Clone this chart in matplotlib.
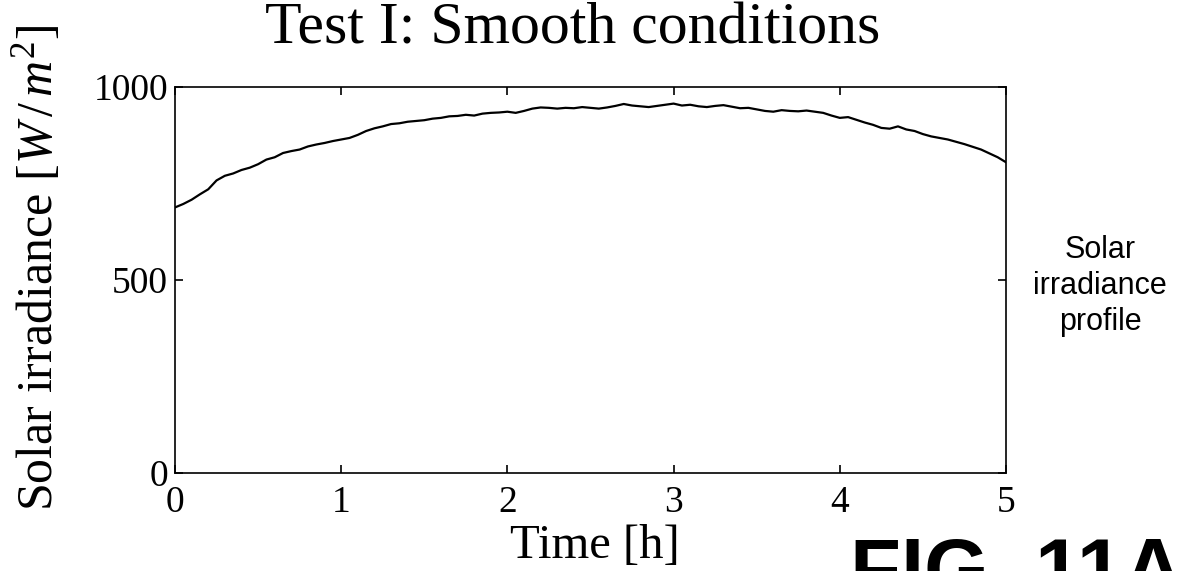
import numpy as np
import matplotlib
matplotlib.use("Agg")
import matplotlib.pyplot as plt

plt.rcParams['mathtext.fontset'] = 'custom'
plt.rcParams['mathtext.rm'] = 'Liberation Serif'
plt.rcParams['mathtext.it'] = 'Liberation Serif:italic'

# irradiance, every 0.05 h
irradiance = [
    688, 697, 708, 722, 735, 758, 770, 776, 785, 791,
    800, 812, 818, 829, 834, 838, 846, 851, 855, 860,
    864, 868, 876, 886, 893, 898, 904, 906, 910, 912,
    914, 918, 920, 924, 925, 928, 926, 931, 933, 934,
    936, 933, 938, 944, 947, 946, 944, 946, 945, 948,
    946, 944, 947, 951, 956, 952, 950, 948, 951, 954,
    957, 952, 954, 950, 948, 951, 953, 949, 945, 946,
    942, 938, 936, 940, 938, 937, 939, 936, 933, 926,
    920, 922, 915, 908, 902, 894, 892, 898, 890, 886,
    878, 872, 868, 864, 858, 852, 845, 838, 828, 818,
    805,
]
time_h = np.linspace(0, 5, len(irradiance))

x_ticks = [0, 1, 2, 3, 4, 5]
y_ticks = [0, 500, 1000]

serif = 'Liberation Serif'

fig = plt.figure(figsize=(11.85, 5.71), dpi=100)
ax = fig.add_axes([175 / 1185, 1 - 473 / 571, (1006 - 175) / 1185, (473 - 87) / 571])

ax.plot(time_h, irradiance, color='black', linewidth=1.6)

ax.set_xlim(0, 5)
ax.set_ylim(0, 1000)
ax.set_xticks(x_ticks)
ax.set_yticks(y_ticks)
ax.tick_params(direction='in', length=6, width=1.2, top=True, right=True,
               labelsize=27)
ax.tick_params(axis='x', pad=9)
ax.tick_params(axis='y', pad=5)
for lab in ax.get_xticklabels() + ax.get_yticklabels():
    lab.set_fontfamily(serif)
for sp in ax.spines.values():
    sp.set_linewidth(1.2)

fig.text(573 / 1185, 1 - 43 / 571, 'Test I: Smooth conditions', family=serif,
         fontsize=43, ha='center', va='baseline')
fig.text(595 / 1185, 1 - 558 / 571, 'Time [h]', family=serif,
         fontsize=35, ha='center', va='baseline')
fig.text(37 / 1185, 1 - 268 / 571, 'Solar irradiance [$W\\,/\\,m^2$]', family=serif,
         fontsize=36, rotation=90, ha='center', va='center')

fig.text(1100 / 1185, 1 - 286 / 571, 'Solar\nirradiance\nprofile',
         family='Liberation Sans', fontsize=22, ha='center', va='center',
         linespacing=1.25)
fig.text(850 / 1185, 1 - 536 / 571, 'FIG. 11A', family='Liberation Sans',
         fontweight='bold', fontsize=60, ha='left', va='top')

fig.savefig('out.png', dpi=100)
